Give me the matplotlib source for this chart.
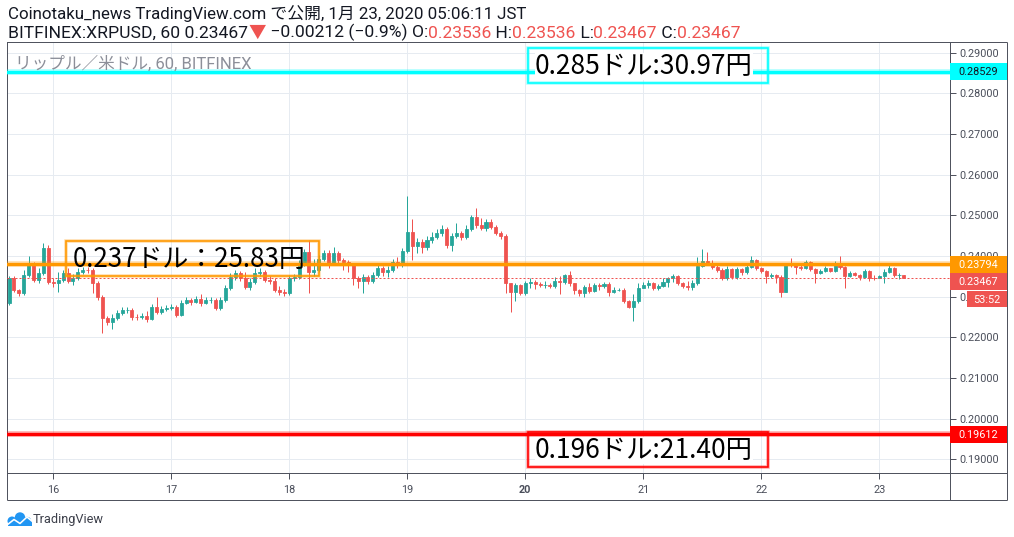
import matplotlib
matplotlib.use('Agg')
import matplotlib.pyplot as plt
import numpy as np
from matplotlib.patches import Rectangle, Circle

plt.rcParams['font.family'] = ['Roboto', 'Noto Sans CJK JP', 'DejaVu Sans']

# ---------------- data (hourly candles, BITFINEX XRP/USD) ----------------
first_open = 0.22844
closes = [
    0.23459, 0.23164, 0.23090, 0.23533, 0.23779, 0.23410, 0.23582, 0.24197, 0.23361, 0.23336,
    0.23410, 0.23582, 0.23385, 0.23459, 0.23606, 0.23656, 0.23650, 0.23336, 0.22992, 0.22475,
    0.22377, 0.22475, 0.22598, 0.22672, 0.22680, 0.22500, 0.22490, 0.22524, 0.22450, 0.22746,
    0.22623, 0.22696, 0.22721, 0.22746, 0.22549, 0.22844, 0.22918, 0.22869, 0.22942, 0.22844,
    0.22918, 0.22925, 0.22721, 0.22918, 0.23213, 0.23484, 0.23582, 0.23459, 0.23238, 0.23361,
    0.23582, 0.23606, 0.23410, 0.23385, 0.23164, 0.23115, 0.23090, 0.23459, 0.23484, 0.23828,
    0.24098, 0.23606, 0.23656, 0.23926, 0.24074, 0.23828, 0.24074, 0.23902, 0.23852, 0.23779,
    0.23459, 0.23385, 0.23484, 0.23385, 0.23533, 0.23705, 0.23606, 0.23656, 0.23852, 0.23779,
    0.24123, 0.24590, 0.24246, 0.24344, 0.24221, 0.24393, 0.24467, 0.24566, 0.24664, 0.24270,
    0.24492, 0.24566, 0.24467, 0.24664, 0.24959, 0.24762, 0.24689, 0.24836, 0.24713, 0.24566,
    0.24492, 0.23336, 0.23115, 0.23287, 0.23090, 0.23336, 0.23361, 0.23311, 0.23287, 0.23290,
    0.23262, 0.23385, 0.23361, 0.23533, 0.23336, 0.23164, 0.23090, 0.23238, 0.23139, 0.23287,
    0.23262, 0.23311, 0.23115, 0.23164, 0.23170, 0.22893, 0.22746, 0.22893, 0.23213, 0.23287,
    0.23336, 0.23213, 0.23262, 0.23361, 0.23459, 0.23508, 0.23336, 0.23262, 0.23238, 0.23336,
    0.23754, 0.23877, 0.23828, 0.23729, 0.23656, 0.23459, 0.23680, 0.23484, 0.23680, 0.23606,
    0.23729, 0.23902, 0.23705, 0.23631, 0.23508, 0.23533, 0.23484, 0.23115, 0.23779, 0.23772,
    0.23729, 0.23705, 0.23852, 0.23680, 0.23582, 0.23631, 0.23705, 0.23631, 0.23828, 0.23729,
    0.23508, 0.23582, 0.23533, 0.23484, 0.23631, 0.23459, 0.23452, 0.23508, 0.23606, 0.23705,
    0.23533, 0.23536, 0.23467,
]
highs = [
    0.23508, 0.23508, 0.23188, 0.23656, 0.24000, 0.23852, 0.23705, 0.24320, 0.24270, 0.23459,
    0.23606, 0.23656, 0.23705, 0.23557, 0.23705, 0.23729, 0.23729, 0.23705, 0.23385, 0.23041,
    0.22524, 0.22573, 0.22672, 0.22746, 0.22746, 0.22721, 0.22573, 0.22598, 0.22647, 0.22819,
    0.22992, 0.22770, 0.22795, 0.22819, 0.22795, 0.22918, 0.22992, 0.22967, 0.23016, 0.23065,
    0.22992, 0.22992, 0.22967, 0.22992, 0.23287, 0.23582, 0.23656, 0.23631, 0.23606, 0.23459,
    0.23705, 0.23705, 0.23656, 0.23508, 0.23459, 0.23262, 0.23188, 0.23533, 0.23557, 0.23902,
    0.24172, 0.24393, 0.23926, 0.24025, 0.24148, 0.24148, 0.24221, 0.24123, 0.23951, 0.23902,
    0.23828, 0.23508, 0.23557, 0.23533, 0.23606, 0.23779, 0.23754, 0.23754, 0.23926, 0.23975,
    0.24197, 0.25476, 0.24910, 0.24443, 0.24418, 0.24492, 0.24590, 0.24664, 0.24762, 0.24713,
    0.24566, 0.24812, 0.24615, 0.24762, 0.25008, 0.25180, 0.24935, 0.24910, 0.24910, 0.24762,
    0.24615, 0.24541, 0.23336, 0.23336, 0.23311, 0.23385, 0.23459, 0.23410, 0.23361, 0.23385,
    0.23336, 0.23484, 0.23508, 0.23557, 0.23631, 0.23336, 0.23188, 0.23287, 0.23336, 0.23336,
    0.23336, 0.23361, 0.23361, 0.23238, 0.23213, 0.23213, 0.22918, 0.23065, 0.23336, 0.23361,
    0.23410, 0.23361, 0.23311, 0.23459, 0.23484, 0.23557, 0.23533, 0.23361, 0.23385, 0.23410,
    0.23975, 0.24172, 0.24098, 0.23902, 0.23779, 0.23705, 0.23754, 0.23705, 0.23729, 0.23705,
    0.23803, 0.24000, 0.23926, 0.23729, 0.23656, 0.23582, 0.23557, 0.23533, 0.23828, 0.23951,
    0.23828, 0.23803, 0.23902, 0.23877, 0.23705, 0.23680, 0.23754, 0.23705, 0.23877, 0.24000,
    0.23754, 0.23631, 0.23606, 0.23557, 0.23680, 0.23656, 0.23533, 0.23533, 0.23680, 0.23779,
    0.23729, 0.23582, 0.23536,
]
lows = [
    0.22795, 0.23115, 0.23016, 0.23041, 0.23484, 0.23361, 0.23336, 0.23533, 0.23311, 0.23238,
    0.23115, 0.23361, 0.23336, 0.23287, 0.23410, 0.23557, 0.23582, 0.23090, 0.22918, 0.22106,
    0.22303, 0.22205, 0.22426, 0.22549, 0.22598, 0.22426, 0.22426, 0.22450, 0.22377, 0.22426,
    0.22573, 0.22573, 0.22647, 0.22672, 0.22500, 0.22524, 0.22819, 0.22795, 0.22844, 0.22770,
    0.22819, 0.22844, 0.22672, 0.22672, 0.22869, 0.23164, 0.23410, 0.23385, 0.23188, 0.23164,
    0.23311, 0.23508, 0.23361, 0.23311, 0.23115, 0.23041, 0.23016, 0.23041, 0.23385, 0.23434,
    0.23754, 0.23090, 0.23508, 0.23606, 0.23877, 0.23705, 0.23779, 0.23828, 0.23656, 0.23606,
    0.23287, 0.23213, 0.23090, 0.23311, 0.23336, 0.23484, 0.23508, 0.23484, 0.23606, 0.23705,
    0.23729, 0.24074, 0.23902, 0.24074, 0.24074, 0.24148, 0.24320, 0.24418, 0.24492, 0.24197,
    0.24123, 0.24443, 0.24393, 0.24418, 0.24615, 0.24689, 0.24639, 0.24615, 0.24664, 0.24516,
    0.24418, 0.23090, 0.22623, 0.22893, 0.23041, 0.23041, 0.23213, 0.23188, 0.23238, 0.23213,
    0.23213, 0.23213, 0.23065, 0.23311, 0.23262, 0.23065, 0.23016, 0.22992, 0.23090, 0.23115,
    0.23164, 0.23213, 0.23016, 0.23090, 0.23139, 0.22844, 0.22721, 0.22401, 0.22844, 0.23213,
    0.23213, 0.23164, 0.23164, 0.23238, 0.23238, 0.23361, 0.23287, 0.23213, 0.23164, 0.23164,
    0.23287, 0.23729, 0.23779, 0.23680, 0.23606, 0.23410, 0.23410, 0.23434, 0.23434, 0.23533,
    0.23557, 0.23705, 0.23656, 0.23582, 0.23336, 0.23459, 0.23336, 0.22992, 0.23115, 0.23729,
    0.23557, 0.23656, 0.23680, 0.23631, 0.23336, 0.23557, 0.23606, 0.23606, 0.23606, 0.23680,
    0.23213, 0.23484, 0.23508, 0.23410, 0.23459, 0.23385, 0.23410, 0.23459, 0.23336, 0.23582,
    0.23484, 0.23434, 0.23467,
]
first_bar_day = 15 + 15 / 24          # Jan 15, 15:00 JST (x axis = day of month)
level_values = [0.28529, 0.23794, 0.19612]
level_colors = ['#00FFFF', '#FF9800', '#FF0000']
level_label_text = ['#131722', 'white', 'white']
level_notes = ['0.285ドル:30.97円', '0.237ドル：25.83円', '0.196ドル:21.40円']
last_price = 0.23467
countdown_text = '53:52'
day_ticks = [16, 17, 18, 19, 20, 21, 22, 23]
day_labels = ['16', '17', '18', '19', '20', '21', '22', '23']
bold_day = '20'
price_ticks = [0.19, 0.20, 0.21, 0.22, 0.23, 0.24, 0.25, 0.26, 0.27, 0.28, 0.29]
header_line1 = 'Coinotaku_news TradingView.com で公開, 1月 23, 2020 05:06:11 JST'
header_line2 = [('BITFINEX:XRPUSD, 60 0.23467', 'dark'), ('▼', 'red'),
                (' −0.00212 (−0.9%) O:', 'dark'), ('0.23536', 'red'),
                (' H:', 'dark'), ('0.23536', 'red'), (' L:', 'dark'), ('0.23467', 'red'),
                (' C:', 'dark'), ('0.23467', 'red')]
watermark = 'リップル／米ドル, 60, BITFINEX'
brand = 'TradingView'

# ---------------- styling ----------------
UP, DOWN = '#26A69A', '#EF5350'
DARK, RED = '#131722', '#EF5350'
FRAME = '#50535E'
GRID = '#E6EBF1'
W, H, DPI = 1014, 537, 100
PX = 72 / DPI                       # points per pixel
L, R, T, B, BOT, RR = 7, 950, 42, 473, 500, 1007

fig = plt.figure(figsize=(W / DPI, H / DPI), dpi=DPI, facecolor='white')
ax = fig.add_axes([L / W, 1 - B / H, (R - L) / W, (B - T) / H])
ax.set_facecolor('white')
ax.set_xlim(15.6076, 23.599)
ax.set_ylim(0.18663, 0.29263)

# candles
n = len(closes)
opens = [first_open] + closes[:-1]
xs = first_bar_day + np.arange(n) / 24
o = np.array(opens); c = np.array(closes)
cols = [UP if cc >= oo else DOWN for oo, cc in zip(o, c)]
ax.vlines(xs, lows, highs, colors=cols, lw=1.0 * PX, zorder=2)
ax.bar(xs, c - o, bottom=o, width=0.62 / 24, color=cols, edgecolor=cols,
       linewidth=0.8 * PX, zorder=3)

# horizontal levels
ax.axhline(last_price, color=RED, lw=1.0 * PX, ls=(0, (2, 2)), zorder=3.5)
for v, col in zip(level_values, level_colors):
    ax.axhline(v, color=col, lw=5.5 * PX, alpha=0.35, zorder=4)
    ax.axhline(v, color=col, lw=3.2 * PX, zorder=4.1)

# grid / ticks / spines
ax.set_axisbelow(True)
ax.grid(True, color=GRID, lw=1.0 * PX)
ax.set_xticks(day_ticks)
ax.set_xticklabels(day_labels)
ax.set_yticks(price_ticks)
ax.set_yticklabels([f'{v:.5f}' for v in price_ticks])
ax.yaxis.tick_right()
ax.tick_params(axis='y', direction='out', length=4, width=1 * PX, color=FRAME,
               labelsize=7.8, labelcolor='#4A4E5A', pad=3)
ax.tick_params(axis='x', direction='out', length=4, width=1 * PX, color=FRAME,
               labelsize=7.8, labelcolor='#4A4E5A', pad=4.5)
for lab in ax.get_xticklabels():
    if lab.get_text() == bold_day:
        lab.set_fontweight('bold')
for s in ax.spines.values():
    s.set_color(FRAME)
    s.set_linewidth(1.0 * PX)

# ---------------- overlay in pixel coordinates ----------------
ov = fig.add_axes([0, 0, 1, 1], zorder=10)
ov.set_xlim(0, W)
ov.set_ylim(H, 0)
ov.axis('off')
ov.patch.set_visible(False)

def seg(x0, y0, x1, y1, col=FRAME, lw=1.0):
    ov.plot([x0, x1], [y0, y1], color=col, lw=lw * PX, solid_capstyle='butt', clip_on=False)

seg(L, B, L, BOT); seg(L, BOT, RR, BOT); seg(RR, T, RR, BOT)
seg(R, B, R, BOT); seg(R, T, RR, T); seg(R, B, RR, B)

renderer = fig.canvas.get_renderer()

def tw(s, size, **kw):
    t = ov.text(0, 0, s, fontsize=size, **kw)
    w = t.get_window_extent(renderer=renderer).width
    t.remove()
    return w

def fit_size(s, width, **kw):
    return 20 * width / tw(s, 20, **kw)

def draw_pieces(x0, ybase, pieces, width, colmap):
    full = ''.join(p for p, _ in pieces)
    size = fit_size(full, width)
    ref = tw('X', size)
    prefix = ''
    for s, key in pieces:
        x = x0 if not prefix else x0 + tw(prefix + 'X', size) - ref
        ov.text(x, ybase, s, fontsize=size, color=colmap[key], va='baseline', ha='left')
        prefix += s

# header
s1 = fit_size(header_line1, 517)
ov.text(8, 19, header_line1, fontsize=s1, color=DARK, va='baseline', ha='left')
draw_pieces(8, 37.5, header_line2, 732, {'dark': DARK, 'red': RED})

# watermark
sw = fit_size(watermark, 237)
ov.text(15, 68.5, watermark, fontsize=sw, color='#8C8F99', va='baseline', ha='left')

def ypx(v):
    return H - ax.transData.transform((ax.get_xlim()[0], v))[1]

# annotation boxes
box_left = [528, 66, 528]
box_width = [240, 253, 240]
text_width = [218, 233, 218]
box_fill = [True, False, True]
for v, col, note, bx, bw, twid, fill in zip(level_values, level_colors, level_notes,
                                             box_left, box_width, text_width, box_fill):
    yc = ypx(v)
    top = yc - 23 if col != '#FF9800' else yc - 23
    if col == '#FF0000':
        top = yc - 2
    if col == '#00FFFF':
        top = yc - 24
    ov.add_patch(Rectangle((bx, top), bw, 35, fill=False, ec=col, lw=3.5 * PX, alpha=0.35))
    ov.add_patch(Rectangle((bx, top), bw, 35, fill=False, ec=col, lw=1.6 * PX))
    fs = fit_size(note, twid, family=['Noto Sans CJK JP', 'DejaVu Sans'])
    kw = dict(fontsize=fs, color='black', va='baseline', ha='left',
              family=['Noto Sans CJK JP', 'DejaVu Sans'])
    if fill:
        kw['bbox'] = dict(boxstyle='square,pad=0', fc='white', ec='none')
    ov.text(bx + 7, top + 26, note, **kw)

# price labels on right scale
def price_label(ycenter, text, fc, tc, x0=R, x1=RR, h=17):
    ov.add_patch(Rectangle((x0, ycenter - h / 2), x1 - x0, h, fc=fc, ec='none'))
    ov.text(958 if x0 == R else (x0 + x1) / 2, ycenter + 0.5, text, fontsize=7.8, color=tc,
            va='center', ha='left' if x0 == R else 'center')

for v, col, tcol in zip(level_values, level_colors, level_label_text):
    price_label(ypx(v), f'{v:.5f}', col, tcol)
orange_bottom = ypx(level_values[1]) + 8.5
price_label(orange_bottom + 9, f'{last_price:.5f}', RED, 'white')
price_label(orange_bottom + 26.5, countdown_text, RED, 'white', x0=967, h=16)

# brand logo + text
blue = '#2196F3'
for (cx, cy, r) in [(12, 521, 4.5), (20, 517.5, 5.2), (27, 521, 4.2)]:
    ov.add_patch(Circle((cx, cy), r, fc=blue, ec='none'))
ov.add_patch(Rectangle((8, 520), 23.5, 5.5, fc=blue, ec='none'))
ov.plot([7, 14, 20, 27, 33], [525, 519.5, 523.5, 517, 522], color='white', lw=1.6 * PX,
        solid_joinstyle='round')
sb = fit_size(brand, 71)
ov.text(33, 522.5, brand, fontsize=sb, color='#3C3F4A', va='baseline', ha='left')

fig.savefig('out.png', dpi=DPI, facecolor='white')
